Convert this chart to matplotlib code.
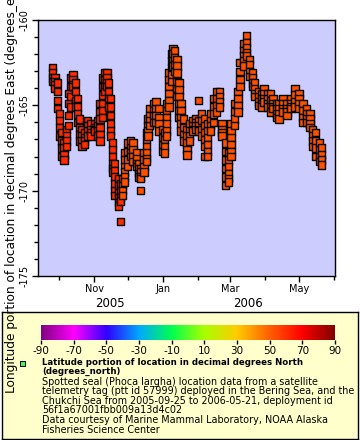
import numpy as np
import pandas as pd
import matplotlib
matplotlib.use("Agg")
import matplotlib.pyplot as plt
import matplotlib.dates as mdates
from matplotlib.colors import LinearSegmentedColormap
from matplotlib.ticker import MultipleLocator

# days after 2005-09-25 and the longitude fixes read for each of them
days = [0, 2, 4, 6, 8, 10, 12, 14, 16, 18, 20, 22, 24, 26, 28, 31, 34, 37,
        40, 42, 44, 46, 48, 49.5, 51, 53, 55, 58, 60, 62, 63.5, 66, 69, 71,
        74, 76.5, 78, 81, 83, 84.5, 86, 89, 91.5, 94, 97, 99, 101, 103, 105,
        106.5, 108, 110, 112, 113.5, 116, 119, 121, 124, 127, 129, 132,
        134.5, 137, 140, 142.5, 145, 148, 150, 153, 155.7, 158, 161, 164,
        166, 169, 171.5, 174, 177, 179, 182, 184.7, 187, 190, 192.6, 195,
        198, 200.5, 204, 207.6, 211, 214.6, 218, 221.6, 225, 228, 230, 233,
        236, 238]
lons = [
    [-162.8, -163.1, -163.4, -163.6],
    [-163.4, -163.6, -163.8, -164.0],
    [-163.7, -164.2, -164.7, -165.2],
    [-165.5, -165.9, -166.3, -166.8],
    [-166.6, -167.1, -167.5, -168.0],
    [-167.2, -167.5, -167.9, -168.2],
    [-166.4, -166.8, -167.1, -167.4],
    [-164.3, -164.9, -165.6, -166.2],
    [-163.4, -163.9, -164.5, -165.1],
    [-163.2, -163.5, -163.8, -163.9],
    [-163.7, -164.2, -164.7, -165.1],
    [-164.6, -165.1, -165.5, -166.0],
    [-165.8, -166.3, -166.7, -167.1],
    [-166.4, -166.8, -167.1, -167.4],
    [-166.6, -166.9, -167.1, -167.3],
    [-165.9, -166.2, -166.5, -166.8],
    [-166.1, -166.4, -166.6, -166.8],
    [-166.1, -166.3, -166.4, -166.5],
    [-165.9, -166.2, -166.5, -166.8],
    [-164.9, -165.4, -165.8, -166.3, -166.7, -167.1],
    [-163.4, -163.9, -164.4, -164.9, -165.3, -165.7],
    [-163.1, -163.5, -163.9, -164.2],
    [-163.1, -163.4, -163.7, -163.9],
    [-163.7, -164.2, -164.6, -165.1],
    [-164.6, -165.1, -165.6, -166.1, -166.5, -166.8],
    [-167.2, -167.6, -168.0, -168.4, -168.7, -168.9],
    [-168.4, -168.8, -169.2, -169.6, -170.0, -170.3],
    [-169.3, -169.7, -170.1, -170.4, -170.7, -170.9],
    [-169.6, -170.0, -170.4, -170.6, -171.8],
    [-169.3, -169.7, -170.0, -170.3],
    [-167.8, -168.2, -168.6, -168.9, -169.2, -169.5],
    [-167.2, -167.7, -168.2, -168.6],
    [-167.1, -167.5, -167.8, -168.0],
    [-167.2, -167.6, -168.0, -168.3],
    [-167.8, -168.1, -168.4, -168.6],
    [-168.4, -168.7, -169.0, -169.2],
    [-168.7, -168.9, -169.2, -169.3, -170.0],
    [-167.8, -168.2, -168.6, -168.9],
    [-166.6, -167.0, -167.4, -167.8, -168.1, -168.3],
    [-165.8, -166.2, -166.5, -166.8],
    [-165.2, -165.6, -165.9, -166.2],
    [-164.9, -165.3, -165.6, -166.0],
    [-164.8, -165.2, -165.6, -166.0],
    [-165.2, -165.7, -166.1, -166.5],
    [-166.4, -166.9, -167.3, -167.7],
    [-166.6, -167.0, -167.4, -167.8],
    [-164.9, -165.3, -165.7, -166.1, -166.5, -166.8],
    [-163.1, -163.5, -163.9, -164.3, -164.7, -165.1],
    [-162.0, -162.4, -162.8, -163.2, -163.6],
    [-161.7, -162.0, -162.4, -162.7],
    [-161.8, -162.2, -162.6, -163.0],
    [-162.3, -162.7, -163.1, -163.6, -164.0, -164.5],
    [-163.7, -164.1, -164.5, -164.9, -165.3, -165.7],
    [-164.9, -165.3, -165.7, -166.1, -166.5],
    [-165.8, -166.3, -166.7, -167.1],
    [-166.4, -166.8, -167.2, -167.6, -167.9],
    [-166.1, -166.5, -166.8, -167.1],
    [-165.9, -166.2, -166.4, -166.5],
    [-165.8, -166.0, -166.2, -166.4],
    [-165.9, -166.2, -166.4, -166.5, -164.7],
    [-165.5, -165.9, -166.4, -166.8],
    [-165.8, -166.2, -166.6, -167.0, -167.4, -168.0],
    [-166.1, -166.5, -166.9, -167.3, -167.7, -168.0],
    [-165.5, -165.9, -166.2, -166.5],
    [-164.6, -165.1, -165.5, -166.0],
    [-164.2, -164.6, -165.0, -165.4],
    [-164.2, -164.5, -164.8, -165.1],
    [-166.1, -166.4, -166.6, -166.8],
    [-167.2, -167.7, -168.2, -168.7, -169.2, -169.7],
    [-167.8, -168.2, -168.6, -169.0, -169.3, -169.5],
    [-166.1, -166.5, -166.9, -167.3, -167.7, -168.0],
    [-164.9, -165.4, -165.8, -166.2],
    [-164.2, -164.6, -165.0, -165.4],
    [-162.5, -163.0, -163.5, -163.9],
    [-161.4, -161.8, -162.1, -162.4, -162.7],
    [-160.9, -161.3, -161.6, -161.9, -162.1],
    [-162.3, -162.6, -163.0, -163.3],
    [-163.1, -163.4, -163.7, -163.9],
    [-163.7, -164.0, -164.3, -164.5],
    [-164.2, -164.5, -164.8, -165.0],
    [-164.3, -164.6, -164.9, -165.1],
    [-164.0, -164.3, -164.6, -164.8],
    [-164.3, -164.6, -164.9, -165.1],
    [-164.3, -164.7, -165.1, -165.4],
    [-164.6, -164.9, -165.1, -165.2],
    [-164.9, -165.2, -165.5, -165.7],
    [-164.9, -165.2, -165.5, -165.8],
    [-164.6, -164.9, -165.2, -165.4],
    [-164.9, -165.2, -165.4, -165.6],
    [-164.6, -164.9, -165.1, -165.2],
    [-164.0, -164.4, -164.8, -165.1],
    [-164.3, -164.6, -164.9, -165.2],
    [-164.9, -165.3, -165.7, -166.0],
    [-165.2, -165.5, -165.8, -166.0],
    [-165.5, -165.8, -166.1, -166.3],
    [-166.4, -166.8, -167.1, -167.4],
    [-166.6, -167.1, -167.5, -168.0],
    [-167.2, -167.6, -168.0, -168.3],
    [-167.5, -167.9, -168.2, -168.5],
]

cb_ticks = [-90, -70, -50, -30, -10, 10, 30, 50, 70, 90]
rainbow = ["#800080", "#ff00ff", "#3000ff", "#00a8ff", "#00ff50",
           "#a8ff00", "#ffcc00", "#ff6000", "#ff0000", "#800000"]

start = pd.Timestamp("2005-09-25")
t = []
v = []
for d, row in zip(days, lons):
    for lo in row:
        t.append(start + pd.Timedelta(days=d))
        v.append(lo)
t = pd.to_datetime(t)
v = np.array(v)
fill = np.where(t < pd.Timestamp("2005-11-25"), "#ff2a00", "#ff5000")

plt.rcParams["font.family"] = "DejaVu Sans"
plt.rcParams["axes.unicode_minus"] = False
fig = plt.figure(figsize=(3.6, 4.4), dpi=100)

# legend panel (drawn as an empty axes so it sits under the colour bar)
lax = fig.add_axes([2/360, 1/440, 356/360, 1 - 312/440 - 1/440], zorder=0)
lax.set_facecolor("#ffffcc")
lax.set_xticks([])
lax.set_yticks([])
for sp in lax.spines.values():
    sp.set_linewidth(1)

ax = fig.add_axes([38/360, 1 - 276/440, 297/360, 256/440], zorder=1)
ax.set_facecolor("#ccccff")
ax.scatter(t, v, s=28, marker="s", c=fill, edgecolors="black", linewidths=1.0, zorder=3)
ax.set_ylim(-175, -160)
ax.set_xlim(pd.Timestamp("2005-09-12"), pd.Timestamp("2006-06-02"))
ax.yaxis.set_major_locator(MultipleLocator(5))
ax.yaxis.set_minor_locator(MultipleLocator(1))
ax.xaxis.set_major_locator(mdates.MonthLocator(bymonth=[11, 1, 3, 5]))
ax.xaxis.set_major_formatter(mdates.DateFormatter("%b"))
ax.xaxis.set_minor_locator(mdates.MonthLocator())
ax.tick_params(axis="both", which="major", length=4, width=1, labelsize=7, pad=2)
ax.tick_params(axis="both", which="minor", length=3, width=1)
for lab in ax.get_yticklabels():
    lab.set_rotation(90)
    lab.set_va("center")
for sp in ax.spines.values():
    sp.set_linewidth(1)
ax.text(0.242, -0.082, "2005", transform=ax.transAxes, ha="center", va="top", fontsize=8.5)
ax.text(0.707, -0.082, "2006", transform=ax.transAxes, ha="center", va="top", fontsize=8.5)

fig.text(12/360, 1 - 393/440,
         "Longitude portion of location in decimal degrees East (degrees_east)",
         rotation=90, ha="center", va="bottom", fontsize=8.7, zorder=5)

cax = fig.add_axes([41/360, 1 - 340/440, 294/360, 15/440], zorder=2)
cmap = LinearSegmentedColormap.from_list("erd", rainbow)
grad = np.linspace(-90, 90, 256).reshape(1, -1)
cax.imshow(grad, aspect="auto", cmap=cmap, extent=[-90, 90, 0, 1])
cax.set_yticks([])
cax.set_xticks(cb_ticks)
cax.tick_params(axis="x", length=3, width=1, labelsize=7.5, pad=1)
for sp in cax.spines.values():
    sp.set_visible(False)

fig.patches.append(plt.Rectangle((19.5/360, 1 - 366/440), 5/360, 5/440,
                                 transform=fig.transFigure, facecolor="#55ee55",
                                 edgecolor="black", linewidth=0.7, zorder=3))
fig.text(42/360, 1 - 358/440,
         "Latitude portion of location in decimal degrees North\n(degrees_north)",
         fontsize=6.2, fontweight="bold", va="top", ha="left", linespacing=1.05, zorder=3)
fig.text(42/360, 1 - 376.5/440,
         "Spotted seal (Phoca largha) location data from a satellite\n"
         "telemetry tag (ptt id 57999) deployed in the Bering Sea, and the\n"
         "Chukchi Sea from 2005-09-25 to 2006-05-21, deployment id\n"
         "56f1a67001fbb009a13d4c02\n"
         "Data courtesy of Marine Mammal Laboratory, NOAA Alaska\n"
         "Fisheries Science Center",
         fontsize=6.9, va="top", ha="left", linespacing=0.95, zorder=3)

fig.savefig("out.png", dpi=100)
